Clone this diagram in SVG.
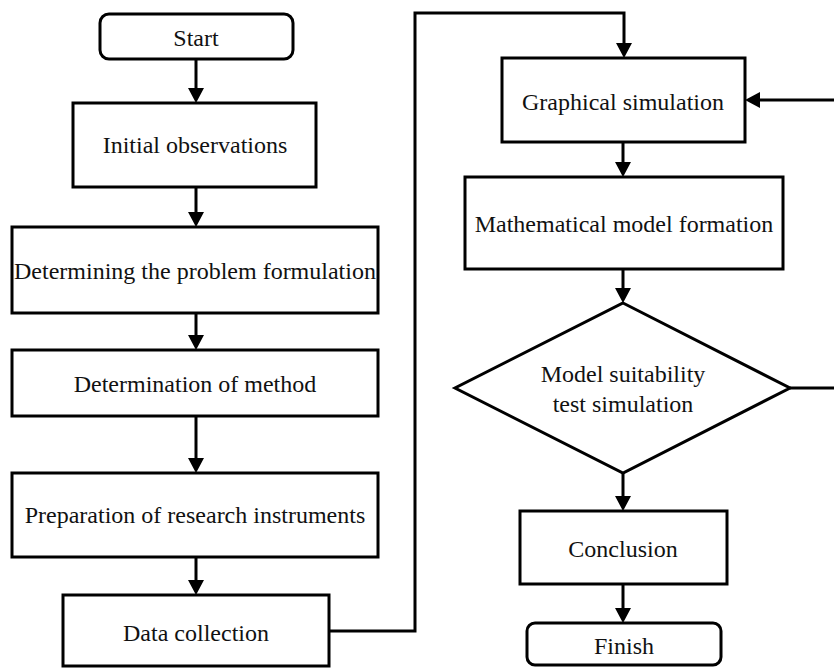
<svg xmlns="http://www.w3.org/2000/svg" width="834" height="668" viewBox="0 0 834 668">
<style>
.box{fill:#fff;stroke:#000;stroke-width:3}
.lbl{font-family:"Liberation Serif","Times New Roman",serif;font-size:24px;fill:#111;text-anchor:middle}
.con{fill:none;stroke:#000;stroke-width:3}
</style>
<defs>
<marker id="ah" viewBox="0 0 15 16" refX="10" refY="8" markerWidth="15" markerHeight="16" markerUnits="userSpaceOnUse" orient="auto">
<path d="M0,0 L15,8 L0,16 Z" fill="#000"/>
</marker>
</defs>
<rect width="834" height="668" fill="#fff"/>
<g id="connectors">
<path class="con" d="M196,59 V98" marker-end="url(#ah)"/>
<path class="con" d="M196,187 V222" marker-end="url(#ah)"/>
<path class="con" d="M196,313 V345" marker-end="url(#ah)"/>
<path class="con" d="M196,416 V468" marker-end="url(#ah)"/>
<path class="con" d="M196,557 V590" marker-end="url(#ah)"/>
<path class="con" d="M329,631 H415 V13 H624 V53" marker-end="url(#ah)"/>
<path class="con" d="M623,142 V172" marker-end="url(#ah)"/>
<path class="con" d="M623,269 V298" marker-end="url(#ah)"/>
<path class="con" d="M623,473 V506" marker-end="url(#ah)"/>
<path class="con" d="M623,584 V618" marker-end="url(#ah)"/>
<path class="con" d="M790,388 H840 V100 H750" marker-end="url(#ah)"/>
</g>
<g id="start">
<rect class="box" x="100" y="14" width="193" height="45" rx="9"/>
<text class="lbl" x="196" y="46">Start</text>
</g>
<g id="initial">
<rect class="box" x="73" y="103" width="243" height="84"/>
<text class="lbl" x="195" y="153">Initial observations</text>
</g>
<g id="problem">
<rect class="box" x="12" y="227" width="366" height="86"/>
<text class="lbl" x="195" y="279">Determining the problem formulation</text>
</g>
<g id="method">
<rect class="box" x="12" y="350" width="366" height="66"/>
<text class="lbl" x="195" y="392">Determination of method</text>
</g>
<g id="preparation">
<rect class="box" x="12" y="473" width="366" height="84"/>
<text class="lbl" x="195" y="523">Preparation of research instruments</text>
</g>
<g id="data">
<rect class="box" x="63" y="595" width="266" height="71"/>
<text class="lbl" x="196" y="641">Data collection</text>
</g>
<g id="graphical">
<rect class="box" x="502" y="58" width="243" height="84"/>
<text class="lbl" x="623" y="110">Graphical simulation</text>
</g>
<g id="math">
<rect class="box" x="465" y="177" width="318" height="92"/>
<text class="lbl" x="624" y="232">Mathematical model formation</text>
</g>
<g id="decision">
<polygon class="box" points="623,303 790,388 623,473 455,388"/>
<text class="lbl" x="623" y="382">Model suitability</text>
<text class="lbl" x="623" y="412">test simulation</text>
</g>
<g id="conclusion">
<rect class="box" x="520" y="511" width="207" height="73"/>
<text class="lbl" x="623" y="557">Conclusion</text>
</g>
<g id="finish">
<rect class="box" x="527" y="623" width="194" height="42" rx="8"/>
<text class="lbl" x="624" y="654">Finish</text>
</g>
</svg>
